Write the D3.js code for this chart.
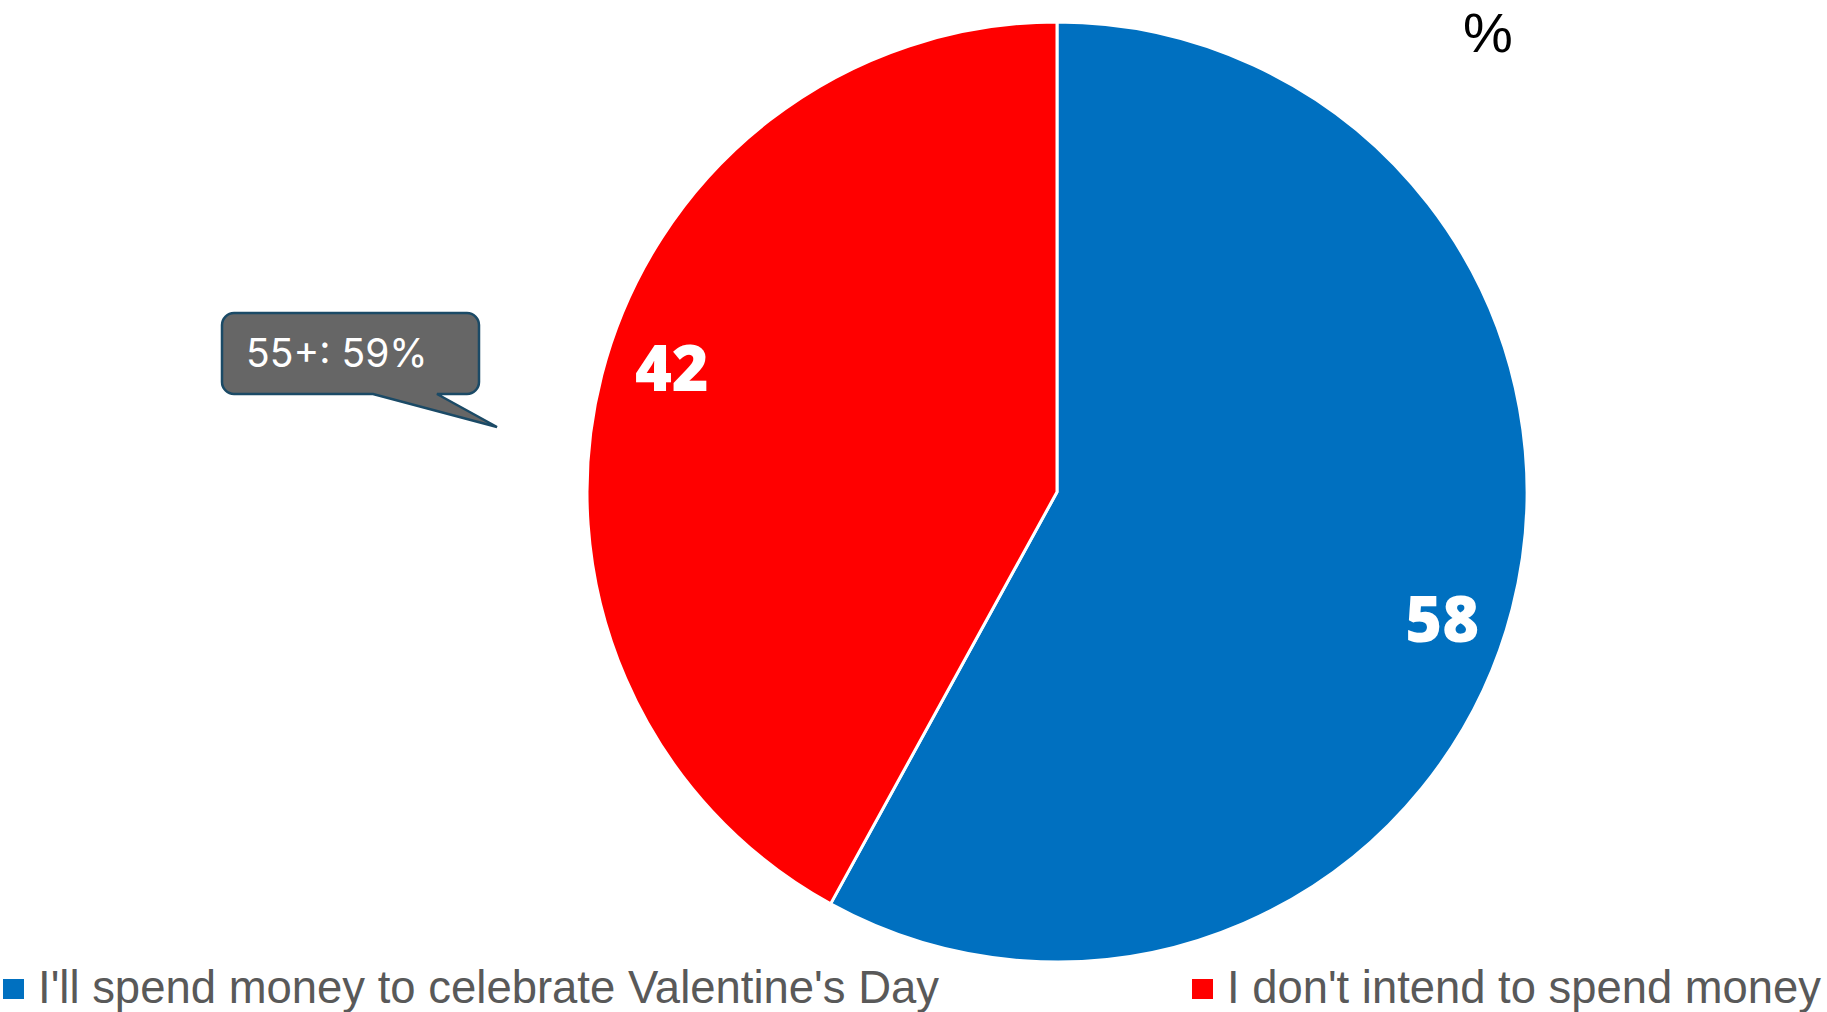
<!DOCTYPE html>
<html>
<head>
<meta charset="utf-8">
<script src="https://cdn.jsdelivr.net/npm/d3@7"></script>
<style>
  html, body { margin: 0; padding: 0; background: #ffffff; }
  svg { display: block; }
</style>
</head>
<body>
<svg id="chart" width="1827" height="1012"></svg>
<script>
// Survey answers (%)
const categories = ["I'll spend money to celebrate Valentine's Day", "I don't intend to spend money"];
const values = [58, 42];
const colors = ["#0070C0", "#FF0000"];
const unitLabel = "%";
const calloutText = "55+: 59%";

const svg = d3.select("#chart");
const cx = 1057, cy = 492, R = 470;

const pie = d3.pie().sort(null).value(d => d.value);
const data = categories.map((c, i) => ({ name: c, value: values[i], color: colors[i] }));
const arcs = pie(data);

const arc = d3.arc().innerRadius(0).outerRadius(R);

const g = svg.append("g").attr("transform", `translate(${cx},${cy})`);

g.selectAll("path.slice")
  .data(arcs)
  .join("path")
  .attr("class", "slice")
  .attr("d", arc)
  .attr("fill", d => d.data.color)
  .attr("stroke", "#ffffff")
  .attr("stroke-width", 3)
  .attr("stroke-linejoin", "round");

// value labels, placed a little past each slice's mid angle
const labelR = 405, labelShift = 0.063;
g.selectAll("text.val")
  .data(arcs)
  .join("text")
  .attr("class", "val")
  .attr("x", d => labelR * Math.sin((d.startAngle + d.endAngle) / 2 + labelShift))
  .attr("y", d => -labelR * Math.cos((d.startAngle + d.endAngle) / 2 + labelShift))
  .attr("text-anchor", "middle")
  .attr("dominant-baseline", "central")
  .attr("font-family", "'Open Sans', 'DejaVu Sans', sans-serif")
  .attr("font-weight", 800)
  .attr("font-size", 63)
  .attr("fill", "#ffffff")
  .text(d => d.data.value);

// unit note
svg.append("text")
  .attr("x", 1488).attr("y", 52)
  .attr("text-anchor", "middle")
  .attr("font-family", "'Liberation Sans', Arial, sans-serif")
  .attr("font-size", 56)
  .attr("fill", "#000000")
  .text(unitLabel);

// callout bubble
const bx0 = 222, by0 = 313, bx1 = 479, by1 = 394, br = 12;
const tailA = 373, tailB = 437, tipX = 497, tipY = 427;
const p = d3.path();
p.moveTo(bx0 + br, by0);
p.lineTo(bx1 - br, by0);
p.arcTo(bx1, by0, bx1, by0 + br, br);
p.lineTo(bx1, by1 - br);
p.arcTo(bx1, by1, bx1 - br, by1, br);
p.lineTo(tailB, by1);
p.lineTo(tipX, tipY);
p.lineTo(tailA, by1);
p.lineTo(bx0 + br, by1);
p.arcTo(bx0, by1, bx0, by1 - br, br);
p.lineTo(bx0, by0 + br);
p.arcTo(bx0, by0, bx0 + br, by0, br);
p.closePath();
svg.append("path")
  .attr("d", p.toString())
  .attr("fill", "#666666")
  .attr("stroke", "#1B4A66")
  .attr("stroke-width", 2.5)
  .attr("stroke-linejoin", "miter");
svg.append("text")
  .attr("x", 246).attr("y", 367)
  .attr("font-family", "Inter, 'Open Sans', sans-serif")
  .attr("font-size", 39)
  .attr("fill", "#ffffff")
  .text(calloutText);

// legend (condensed sans to fit the bottom row)
const legendX = [3, 1192];
const legendTextW = [901, 594];
const lg = svg.selectAll("g.legend")
  .data(data)
  .join("g")
  .attr("class", "legend")
  .attr("transform", (d, i) => `translate(${legendX[i]},0)`);
lg.append("rect")
  .attr("x", 0).attr("y", 979)
  .attr("width", 21).attr("height", 20)
  .attr("fill", d => d.color);
lg.append("text")
  .attr("x", 35).attr("y", 1003)
  .attr("font-family", "'Liberation Sans Narrow', 'Arial Narrow', 'Liberation Sans', sans-serif")
  .attr("font-size", 46)
  .attr("fill", "#595959")
  .attr("textLength", (d, i) => legendTextW[i])
  .attr("lengthAdjust", "spacingAndGlyphs")
  .text(d => d.name);
</script>
</body>
</html>
